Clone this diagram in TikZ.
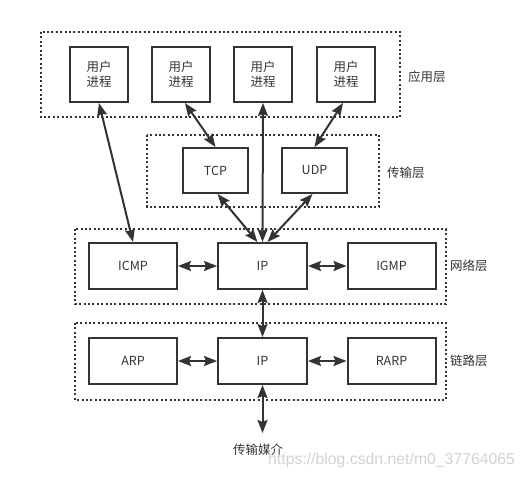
\documentclass[tikz,border=0pt]{standalone}
\usepackage{fontspec}
\setmainfont{Noto Sans CJK SC}
\newfontfamily\markfont{Liberation Sans}
\usetikzlibrary{arrows.meta}
\definecolor{ink}{HTML}{333333}

\begin{document}
\begin{tikzpicture}[x=1pt, y=-1pt,
    font=\fontsize{12.5}{15}\selectfont, text=ink,
    box/.style={draw=ink, line width=2pt, inner sep=0pt, align=center},
    layer/.style={draw=ink, line width=1.7pt, dash pattern=on 2pt off 2.4pt},
    link/.style={draw=ink, line width=2pt, {Stealth[length=13pt,width=10pt,inset=2pt]}-{Stealth[length=13pt,width=10pt,inset=2pt]}},
    tag/.style={anchor=west, inner sep=0pt}]
    \useasboundingbox (0,0) rectangle (525,478);

    % Layer frames
    \draw[layer] (41,32) rectangle (400,117);
    \draw[layer] (147,135) rectangle (379,207);
    \draw[layer] (75,229) rectangle (446,304);
    \draw[layer] (75,323) rectangle (446,400);

    % Application layer
    \node[box, minimum width=58pt, minimum height=55pt] (user1) at (99,74.5) {用户\\进程};
    \node[box, minimum width=58pt, minimum height=55pt] (user2) at (181,74.5) {用户\\进程};
    \node[box, minimum width=58pt, minimum height=55pt] (user3) at (263,74.5) {用户\\进程};
    \node[box, minimum width=58pt, minimum height=55pt] (user4) at (346,74.5) {用户\\进程};
    \node[tag] (app) at (408,77) {应用层};

    % Transport layer
    \node[box, minimum width=65pt, minimum height=45pt] (tcp) at (215.5,170.5) {TCP};
    \node[box, minimum width=65pt, minimum height=45pt] (udp) at (314.5,170.5) {UDP};
    \node[tag] (trans) at (387,173) {传输层};

    % Network layer
    \node[box, minimum width=88pt, minimum height=46pt] (icmp) at (133,266) {ICMP};
    \node[box, minimum width=89pt, minimum height=46pt] (ipnet) at (262.5,266) {IP};
    \node[box, minimum width=88pt, minimum height=46pt] (igmp) at (391.5,266) {IGMP};
    \node[tag] (net) at (450,266) {网络层};

    % Link layer
    \node[box, minimum width=88pt, minimum height=46pt] (arp) at (133,361) {ARP};
    \node[box, minimum width=89pt, minimum height=46pt] (iplink) at (262.5,361) {IP};
    \node[box, minimum width=88pt, minimum height=46pt] (rarp) at (391.5,361) {RARP};
    \node[tag] (lnk) at (450,361) {链路层};

    % Medium
    \coordinate (media) at (262.5,433);
    \node (medium) at (258,450) {传输媒介};
    \node[text=gray!35, font=\markfont\fontsize{15.8}{17}\selectfont, anchor=west, inner sep=0pt] (mark) at (268,460) {https://blog.csdn.net/m0\_37764065};

    % Connectors
    \draw[link] (user1.south) -- (icmp.north);
    \draw[link] ([xshift=4pt]user2.south) -- (tcp.north);
    \draw[link] (user3.south) -- (ipnet.north);
    \draw[link] ([xshift=-3pt]user4.south) -- (udp.north);
    \draw[link] ([xshift=2pt]tcp.south) -- ([xshift=-5pt]ipnet.north);
    \draw[link] ([xshift=-2pt]udp.south) -- ([xshift=5pt]ipnet.north);
    \draw[link] (icmp) -- (ipnet);
    \draw[link] (ipnet) -- (igmp);
    \draw[link] (ipnet) -- (iplink);
    \draw[link] (arp) -- (iplink);
    \draw[link] (iplink) -- (rarp);
    \draw[link] (iplink) -- (media);
\end{tikzpicture}
\end{document}
